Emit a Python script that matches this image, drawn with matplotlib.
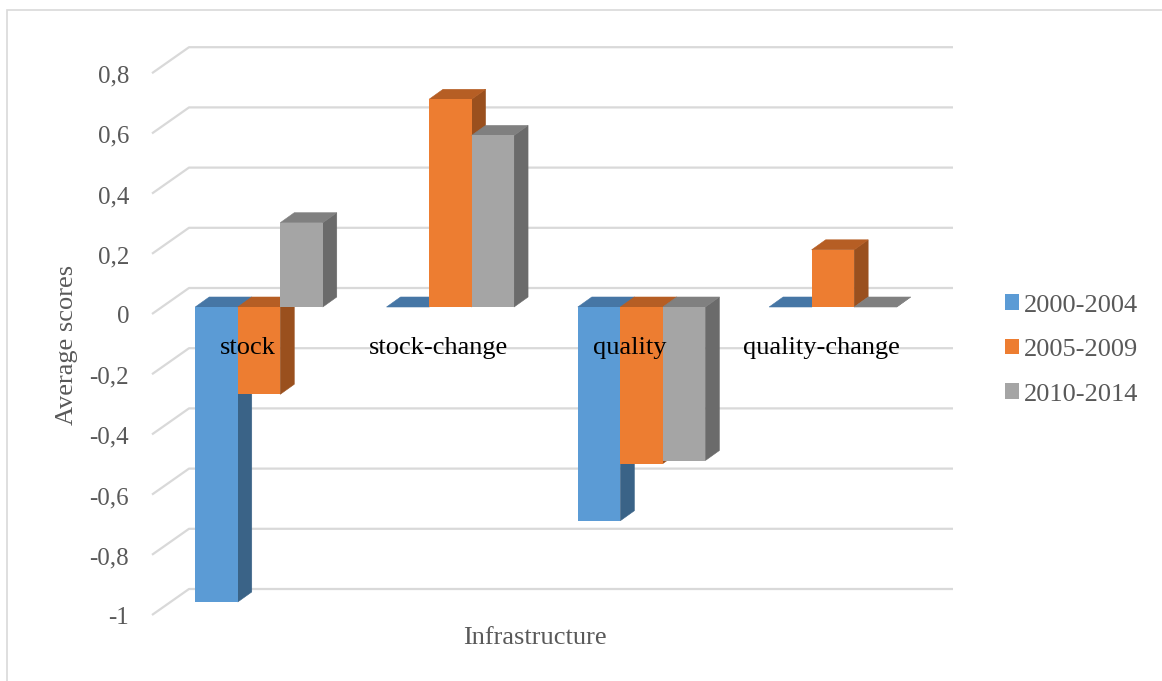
import matplotlib
matplotlib.use("Agg")
import matplotlib.pyplot as plt
from matplotlib.patches import Polygon, Patch, Rectangle
import numpy as np

# ---- data -------------------------------------------------------------
categories = ["stock", "stock-change", "quality", "quality-change"]
series_labels = ["2000-2004", "2005-2009", "2010-2014"]
scores_2000_2004 = [-0.98, 0.00, -0.71, 0.00]
scores_2005_2009 = [-0.29, 0.69, -0.52, 0.19]
scores_2010_2014 = [0.28, 0.57, -0.51, 0.00]
y_ticks = [-1.0, -0.8, -0.6, -0.4, -0.2, 0.0, 0.2, 0.4, 0.6, 0.8]
y_tick_labels = ["-1", "-0,8", "-0,6", "-0,4", "-0,2", "0", "0,2", "0,4", "0,6", "0,8"]
y_title = "Average scores"
x_title = "Infrastructure"

series_values = [scores_2000_2004, scores_2005_2009, scores_2010_2014]

# ---- style --------------------------------------------------------------
front_colors = ["#5B9BD5", "#ED7D31", "#A5A5A5"]
top_colors = ["#4676A5", "#B65E24", "#808080"]
side_colors = ["#3A6387", "#9A501E", "#6B6B6B"]
grid_color = "#D9D9D9"
text_gray = "#595959"

plt.rcParams["font.family"] = ["Liberation Serif", "DejaVu Serif"]

W, H = 1162, 681
fig = plt.figure(figsize=(W / 100, H / 100), dpi=100)
ax = fig.add_axes([0, 0, 1, 1])
ax.set_axis_off()

# one category step and one score unit, in pixels
X0, CAT = 259.0, 191.3
Y0, UNIT = 307.0, 301.0
ax.set_xlim((0 - X0) / CAT, (W - X0) / CAT)
ax.set_ylim((Y0 - H) / UNIT, Y0 / UNIT)


def sx(p):
    return p / CAT


def sy(p):
    return p / UNIT


# ---- walls: back gridlines with oblique floor edges ---------------------
front_x = sx(152 - X0)
back_x0 = sx(189 - X0)
back_x1 = sx(953 - X0)
front_dy = -sy(7)
back_dy = sy(19)
for v, lab in zip(y_ticks, y_tick_labels):
    ax.plot([front_x, back_x0, back_x1],
            [v + front_dy, v + back_dy, v + back_dy],
            color=grid_color, lw=1.6, zorder=1, solid_capstyle="butt")
    ax.text(sx(129 - X0), v + front_dy - sy(3.5), lab,
            ha="right", va="center", fontsize=18, color=text_gray)

# ---- 3D-looking clustered columns ----------------------------------------
x = np.arange(len(categories))
bw = sx(42.5)
ddx, ddy = sx(14), sy(10)
for j, vals in enumerate(series_values):
    bars = ax.bar(x + (j - 1) * bw, vals, width=bw, color=front_colors[j],
                  linewidth=0)
    for r in bars:
        x0, w = r.get_x(), r.get_width()
        y0, h = r.get_y(), r.get_height()
        lo, hi = min(y0, y0 + h), max(y0, y0 + h)
        side = Polygon([(x0 + w, lo), (x0 + w, hi),
                        (x0 + w + ddx, hi + ddy), (x0 + w + ddx, lo + ddy)],
                       closed=True, facecolor=side_colors[j],
                       edgecolor=side_colors[j], lw=0.4, zorder=10 + 3 * j)
        top = Polygon([(x0, hi), (x0 + w, hi),
                       (x0 + w + ddx, hi + ddy), (x0 + ddx, hi + ddy)],
                      closed=True, facecolor=top_colors[j],
                      edgecolor=top_colors[j], lw=0.4, zorder=11 + 3 * j)
        ax.add_patch(side)
        ax.add_patch(top)
        r.set_zorder(12 + 3 * j)

# ---- category labels ------------------------------------------------------
for i, name in enumerate(categories):
    ax.text(i + sx(247.5 - X0), -sy(41), name, ha="center", va="center",
            fontsize=19, color="black", zorder=40)

# ---- axis titles ----------------------------------------------------------
fig.text(67 / W, 1 - 345 / H, y_title, rotation=90, ha="center", va="center",
         fontsize=19, color=text_gray)
fig.text(535 / W, 1 - 638 / H, x_title, ha="center", va="center",
         fontsize=19, color=text_gray)

# ---- legend ---------------------------------------------------------------
handles = [Patch(facecolor=c, edgecolor="none") for c in front_colors]
fig.legend(handles, series_labels, loc="center left",
           bbox_to_anchor=(1005 / W, 1 - 350 / H), frameon=False, fontsize=19,
           labelcolor=text_gray, handlelength=0.53, handleheight=0.53,
           handletextpad=0.2, labelspacing=0.85, borderpad=0, borderaxespad=0)

# ---- chart-area border (left and top edges) -------------------------------
fig.patches.append(Rectangle((7 / W, -0.05), 1.2, 1 - 10 / H + 0.05,
                             transform=fig.transFigure, fill=False,
                             edgecolor=grid_color, lw=1.2, clip_on=False))

fig.savefig("out.png", dpi=100)
